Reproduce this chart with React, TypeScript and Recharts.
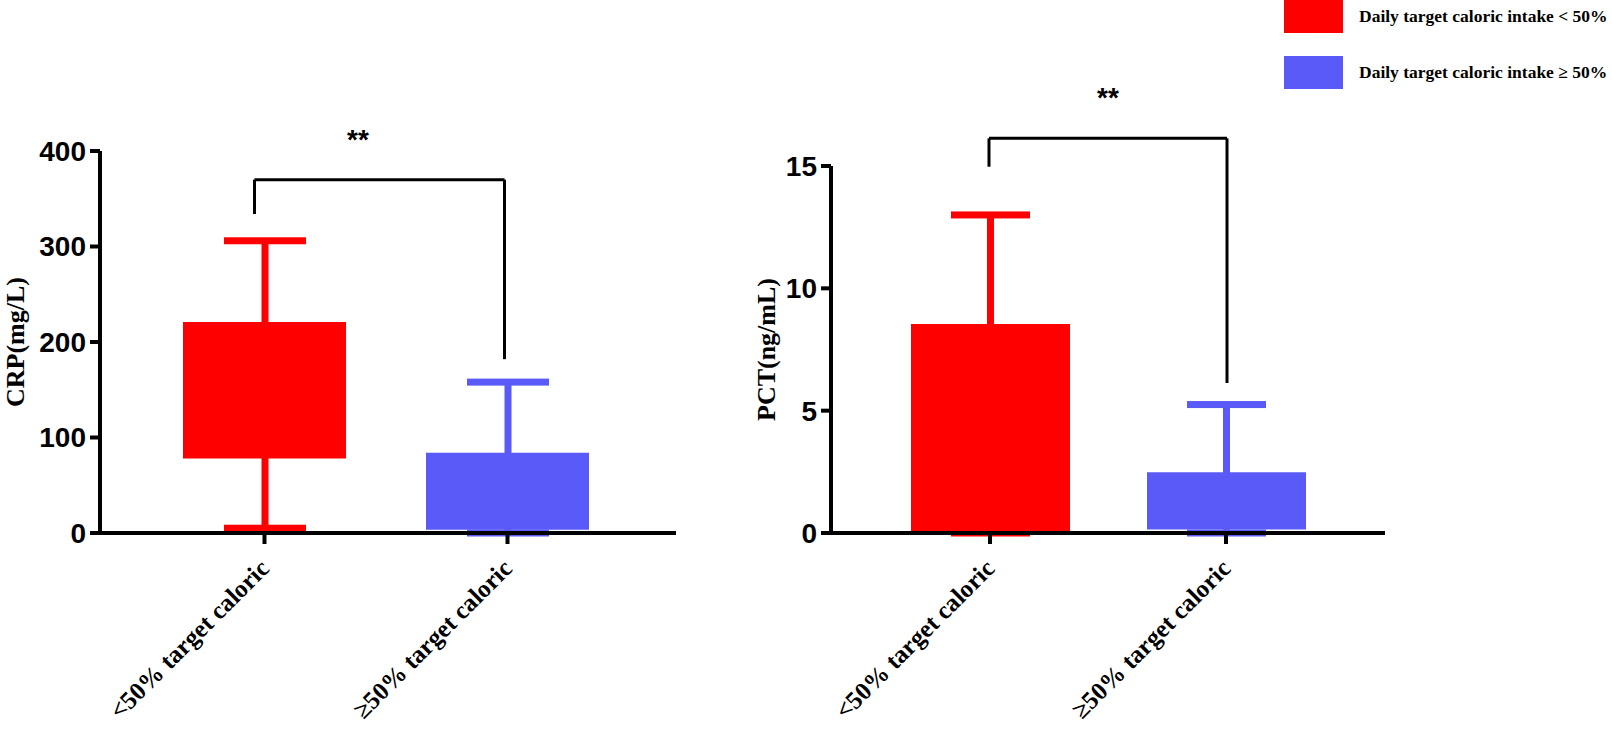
import React from "react";
import { Bar, Cell, ComposedChart, ReferenceLine, XAxis, YAxis } from "recharts";

const groups = ["<50% target caloric", "≥50% target caloric"];
const groupColors = ["#FF0000", "#5A5AF8"];
const legendLabels = ["Daily target caloric intake < 50%", "Daily target caloric intake ≥ 50%"];

// CRP (mg/L): whisker ends and box edges per group
const crpMin = [5, 0];
const crpQ1 = [78, 3.5];
const crpQ3 = [221, 84];
const crpMax = [306, 158];
const crpTicks = [0, 100, 200, 300, 400];
const crpBracket = [334, 370, 182]; // left leg end, top, right leg end

// PCT (ng/mL)
const pctMin = [0, 0];
const pctQ1 = [0.04, 0.14];
const pctQ3 = [8.54, 2.48];
const pctMax = [13, 5.25];
const pctTicks = [0, 5, 10, 15];
const pctBracket = [14.97, 16.13, 6.13];

const makeRows = (min: number[], q1: number[], q3: number[], max: number[]) =>
  groups.map((name, i) => ({ name, box: [q1[i], q3[i]], whisker: [min[i], max[i]] }));

const crpRows = makeRows(crpMin, crpQ1, crpQ3, crpMax);
const pctRows = makeRows(pctMin, pctQ1, pctQ3, pctMax);

const sansBold = { fontFamily: "'Liberation Sans', Arial, sans-serif", fontWeight: 700 };
const serifBold = { fontFamily: "'Liberation Serif', 'Times New Roman', serif", fontWeight: 700 };

const Whisker = (props: any) => {
  const { x, y, width, height, index } = props;
  const top = Math.min(y, y + height);
  const bottom = Math.max(y, y + height);
  const cx = x + width / 2;
  const fill = groupColors[index];
  return (
    <g>
      <rect x={cx - 3.5} y={top} width={7} height={bottom - top} fill={fill} />
      <rect x={x} y={top - 3.5} width={width} height={7} fill={fill} />
      <rect x={x} y={bottom - 3.5} width={width} height={7} fill={fill} />
    </g>
  );
};

const GroupTick = (props: any) => {
  const { x, y, payload } = props;
  return (
    <text
      transform={`translate(${x + 6},${y + 24}) rotate(-45)`}
      textAnchor="end"
      fontSize={25}
      fill="#000"
      style={serifBold}
    >
      {payload.value}
    </text>
  );
};

// bracket line, nudged sideways a few pixels like the original figure
const shifted = (d1: number, d2: number) => (p: any) => (
  <line x1={p.x1 + d1} y1={p.y1} x2={p.x2 + d2} y2={p.y2} stroke="#000" strokeWidth={3} />
);

function Panel(props: any) {
  const { rows, ticks, title, bracket, left, width, margin, boxSize, capSize, padding, titleX, starDx, legDx } = props;
  const [a, b] = groups;
  const line = { ifOverflow: "visible" as const, xAxisId: "b" };

  const stars = (p: any) => {
    const vb = p.viewBox || {};
    return (
      <text x={vb.x + vb.width / 2 + starDx} y={vb.y - 31} textAnchor="middle" fontSize={28} fill="#000" style={sansBold}>
        **
      </text>
    );
  };

  const yTitle = (p: any) => {
    const vb = p.viewBox || {};
    const cy = vb.y + vb.height / 2;
    return (
      <text
        x={titleX}
        y={cy}
        transform={`rotate(-90 ${titleX} ${cy})`}
        textAnchor="middle"
        dominantBaseline="central"
        fontSize={26}
        fill="#000"
        style={serifBold}
      >
        {title}
      </text>
    );
  };

  return (
    <div style={{ position: "absolute", left, top: 0 }}>
      <ComposedChart width={width} height={733} data={rows} margin={margin}>
        <XAxis
          xAxisId="b"
          dataKey="name"
          height={30}
          padding={padding}
          axisLine={{ stroke: "#000", strokeWidth: 4 }}
          tickLine={{ stroke: "#000", strokeWidth: 4 }}
          tickSize={11}
          tick={<GroupTick />}
          interval={0}
        />
        <XAxis xAxisId="w" dataKey="name" padding={padding} hide />
        <YAxis
          domain={[ticks[0], ticks[ticks.length - 1]]}
          ticks={ticks}
          width={80}
          axisLine={{ stroke: "#000", strokeWidth: 4 }}
          tickLine={{ stroke: "#000", strokeWidth: 4 }}
          tickSize={10}
          tickMargin={4}
          tick={{ fill: "#000", fontSize: 28, ...sansBold }}
          label={{ content: yTitle }}
        />
        <Bar xAxisId="w" dataKey="whisker" barSize={capSize} shape={<Whisker />} isAnimationActive={false} />
        <Bar xAxisId="b" dataKey="box" barSize={boxSize} isAnimationActive={false}>
          {rows.map((r: any, i: number) => (
            <Cell key={r.name} fill={groupColors[i]} />
          ))}
        </Bar>
        <ReferenceLine {...line} shape={shifted(legDx[0], legDx[0])} segment={[{ x: a, y: bracket[0] }, { x: a, y: bracket[1] }]} />
        <ReferenceLine
          {...line}
          shape={shifted(legDx[0], legDx[1])}
          segment={[{ x: a, y: bracket[1] }, { x: b, y: bracket[1] }]}
          label={stars}
        />
        <ReferenceLine {...line} shape={shifted(legDx[1], legDx[1])} segment={[{ x: b, y: bracket[1] }, { x: b, y: bracket[2] }]} />
      </ComposedChart>
    </div>
  );
}

export default function App() {
  return (
    <div style={{ position: "absolute", left: 0, top: 0, width: 1612, height: 733, background: "#fff", overflow: "hidden" }}>
      <Panel
        rows={crpRows}
        ticks={crpTicks}
        title="CRP(mg/L)"
        bracket={crpBracket}
        left={0}
        width={720}
        margin={{ top: 151, right: 44, bottom: 170, left: 20 }}
        boxSize={163}
        capSize={82}
        padding={{ left: 43, right: 47 }}
        titleX={15}
        starDx={-28}
        legDx={[-10, -3]}
      />
      <Panel
        rows={pctRows}
        ticks={pctTicks}
        title="PCT(ng/mL)"
        bracket={pctBracket}
        left={700}
        width={720}
        margin={{ top: 166, right: 35, bottom: 170, left: 51 }}
        boxSize={159}
        capSize={79}
        padding={{ left: 41, right: 41 }}
        titleX={66}
        starDx={0}
        legDx={[-1, 1]}
      />
      <div style={{ position: "absolute", left: 1284, top: 0 }}>
        {legendLabels.map((t, i) => (
          <div key={t} style={{ position: "absolute", left: 0, top: i === 0 ? 0 : 56, display: "flex", alignItems: "center", height: 33 }}>
            <div style={{ width: 59, height: 33, background: groupColors[i] }} />
            <span style={{ marginLeft: 16, fontSize: 17.5, whiteSpace: "nowrap", color: "#000", ...serifBold }}>{t}</span>
          </div>
        ))}
      </div>
    </div>
  );
}
